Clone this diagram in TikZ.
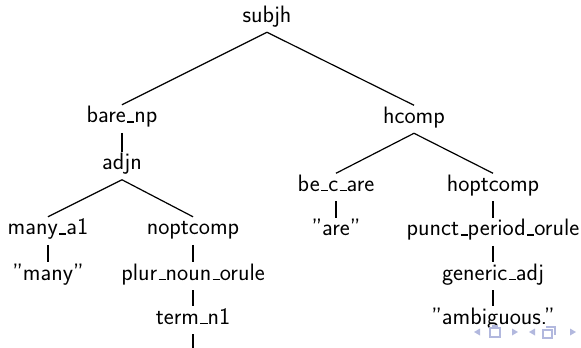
\documentclass[tikz,border=0pt]{standalone}
\definecolor{navc}{RGB}{178,184,222}
\newcommand\usc{\leavevmode\kern.06em\vbox{\hrule width .3em height 1.1pt}}
\tikzset{
  tn/.style={font=\sffamily\fontsize{17.8}{20}\selectfont, anchor=base,
    text height=8.6pt, text depth=3pt, inner ysep=4.5pt, inner xsep=0pt},
  edge/.style={line width=0.9pt},
  navtri/.style={fill=navc, draw=none},
  navbox/.style={draw=navc, line width=1pt}
}
\begin{document}
\begin{tikzpicture}[x=0.75pt, y=-0.75pt]
\useasboundingbox (0,0) rectangle (581,347);
\clip (0,0) rectangle (581,347);
\node[tn] (subjh) at (267,22) {subjh};
\node[tn] (bare) at (122,122.5) {bare\usc np};
\node[tn] (hcomp) at (414,123) {hcomp};
\node[tn] (adjn) at (122,169.5) {adjn};
\node[tn] (many1) at (48,234.5) {many\usc a1};
\node[tn] (nopt) at (193,234.5) {noptcomp};
\node[tn] (bec) at (336,191) {be\usc c\usc are};
\node[tn] (hopt) at (493,191) {hoptcomp};
\node[tn] (are) at (336,235.5) {''are''};
\node[tn] (punct) at (493,235.5) {punct\usc period\usc orule};
\node[tn] (many) at (48,280) {''many''};
\node[tn] (plur) at (193,280) {plur\usc noun\usc orule};
\node[tn] (generic) at (493,280) {generic\usc adj};
\node[tn] (term) at (193,324) {term\usc n1};
\node[tn] (ambig) at (493,324) {''ambiguous.''};
\coordinate (termend) at (193,365);

\draw[edge] (subjh.south) -- (bare.north);
\draw[edge] (subjh.south) -- (hcomp.north);
\draw[edge] (bare.south) -- (adjn.north);
\draw[edge] (adjn.south) -- (many1.north);
\draw[edge] (adjn.south) -- (nopt.north);
\draw[edge] (many1.south) -- (many.north);
\draw[edge] (nopt.south) -- (plur.north);
\draw[edge] (plur.south) -- (term.north);
\draw[edge] (term.south) -- (termend);
\draw[edge] (hcomp.south) -- (bec.north);
\draw[edge] (hcomp.south) -- (hopt.north);
\draw[edge] (bec.south) -- (are.north);
\draw[edge] (hopt.south) -- (punct.north);
\draw[edge] (punct.south) -- (generic.north);
\draw[edge] (generic.south) -- (ambig.north);

% navigation symbols
\fill[navtri] (474,332) -- (480,328.5) -- (480,335.5) -- cycle;
\draw[navbox] (490,328) rectangle (500,337);
\draw[navbox] (492,326) -- (498,326);
\fill[navtri] (518,332) -- (512,328.5) -- (512,335.5) -- cycle;
\fill[navtri] (529,332) -- (535,328.5) -- (535,335.5) -- cycle;
\draw[navbox] (543,330) rectangle (552,338);
\draw[navbox] (546,327) -- (555,327) -- (555,335);
\fill[navtri] (576,332) -- (570,328.5) -- (570,335.5) -- cycle;
\end{tikzpicture}
\end{document}
